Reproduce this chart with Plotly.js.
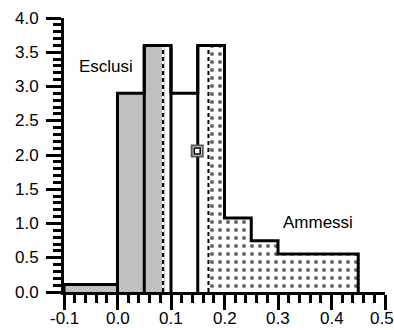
<!DOCTYPE html>
<html>
<head>
<meta charset="utf-8">
<script src="https://cdn.plot.ly/plotly-3.0.1.min.js"></script>
<style>html,body{margin:0;padding:0;background:#fff;}#chart{width:394px;height:330px;}</style>
</head>
<body>
<div id="chart"></div>
<script>
// Bin edges and heights of the histogram
const binEdges = [-0.1, 0.0, 0.05, 0.1, 0.15, 0.2, 0.25, 0.3, 0.45];
const binHeights = [0.11, 2.9, 3.6, 2.9, 3.6, 1.08, 0.75, 0.555];
// Thresholds: Esclusi (excluded) below cutLow, Ammessi (admitted) above cutHigh
const cutLow = 0.085;
const cutHigh = 0.17;
// Marked point
const pointX = [0.149];
const pointY = [2.06];
// Tick labels
const xTickVals = [-0.1, 0.0, 0.1, 0.2, 0.3, 0.4, 0.5];
const xTickText = ["-0.1", "0.0", "0.1", "0.2", "0.3", "0.4", "0.5"];
const yTickVals = [0, 0.5, 1, 1.5, 2, 2.5, 3, 3.5, 4];
const yTickText = ["0.0", "0.5", "1.0", "1.5", "2.0", "2.5", "3.0", "3.5", "4.0"];
const labelEsclusi = "Esclusi";
const labelAmmessi = "Ammessi";

function clipBins(lo, hi) {
  const xs = [], ws = [], ys = [];
  for (let i = 0; i < binHeights.length; i++) {
    const a = Math.max(binEdges[i], lo), b = Math.min(binEdges[i + 1], hi);
    if (b > a) { xs.push((a + b) / 2); ws.push(b - a); ys.push(binHeights[i]); }
  }
  return {xs, ws, ys};
}
function heightAt(x) {
  for (let i = 0; i < binHeights.length; i++) {
    if (x >= binEdges[i] && x < binEdges[i + 1]) return binHeights[i];
  }
  return 0;
}

const gray = clipBins(-Infinity, cutLow + 0.004);
const dots = clipBins(cutHigh, Infinity);

// outline path: top step + internal separators at edges <= cutHigh
const ox = [], oy = [];
ox.push(binEdges[0]); oy.push(0);
for (let i = 0; i < binHeights.length; i++) {
  ox.push(binEdges[i]); oy.push(binHeights[i]);
  ox.push(binEdges[i + 1]); oy.push(binHeights[i]);
}
ox.push(binEdges[binEdges.length - 1]); oy.push(0);
for (let i = 1; i < binEdges.length - 1; i++) {
  if (binEdges[i] <= cutHigh) {
    ox.push(null); oy.push(null);
    ox.push(binEdges[i]); oy.push(0);
    ox.push(binEdges[i]); oy.push(Math.max(binHeights[i - 1], binHeights[i]));
  }
}

const traces = [
  {type: 'bar', x: gray.xs, y: gray.ys, width: gray.ws, base: 0,
   marker: {color: '#c0c0c0', line: {width: 0}}, hoverinfo: 'skip'},
  {type: 'bar', x: dots.xs, y: dots.ys, width: dots.ws, base: 0,
   marker: {color: 'white', line: {width: 0},
            pattern: {shape: '.', fgcolor: '#666', bgcolor: 'white', size: 8, solidity: 0.2, fillmode: 'replace'}},
   hoverinfo: 'skip'},
  // dashed threshold lines (white base + black dashes)
  {type: 'scatter', mode: 'lines', x: [cutLow, cutLow, null, cutHigh, cutHigh],
   y: [0, heightAt(cutLow), null, 0, heightAt(cutHigh)],
   line: {color: 'white', width: 2}, hoverinfo: 'skip'},
  {type: 'scatter', mode: 'lines', x: [cutLow, cutLow, null, cutHigh, cutHigh],
   y: [0, heightAt(cutLow), null, 0, heightAt(cutHigh)],
   line: {color: 'black', width: 2, dash: '4px,3px'}, hoverinfo: 'skip'},
  {type: 'scatter', mode: 'lines', x: ox, y: oy, connectgaps: false,
   line: {color: 'black', width: 3}, hoverinfo: 'skip'},
  {type: 'scatter', mode: 'markers', x: pointX, y: pointY,
   marker: {symbol: 'square', size: 11, color: 'white', line: {color: '#555', width: 2}}, hoverinfo: 'skip'},
  {type: 'scatter', mode: 'markers', x: pointX, y: pointY,
   marker: {symbol: 'square-open', size: 6, color: 'black', line: {color: 'black', width: 1.5}}, hoverinfo: 'skip'}
];

const font = {family: 'Arial, "Liberation Sans", sans-serif', size: 17, color: '#000'};

const annotations = [
  {x: -0.0215, y: 3.29, xref: 'x', yref: 'y', text: labelEsclusi, showarrow: false, font: font},
  {x: 0.374, y: 1.01, xref: 'x', yref: 'y', text: labelAmmessi, showarrow: false, font: font}
];
xTickVals.forEach((v, i) => {
  const last = i === xTickVals.length - 1;
  annotations.push({x: v, y: 0, xref: 'x', yref: 'paper', yanchor: 'top', yshift: -16,
    xanchor: last ? 'right' : 'center', xshift: last ? 10 : 0,
    text: xTickText[i], showarrow: false, font: font, borderpad: 0});
});
yTickVals.forEach((v, i) => {
  annotations.push({x: 0, y: v, xref: 'paper', yref: 'y', xanchor: 'right', yanchor: 'middle', xshift: -24,
    text: yTickText[i], showarrow: false, font: font, borderpad: 0});
});

const layout = {
  width: 394, height: 330,
  margin: {l: 64, r: 9, t: 18, b: 38, pad: 0},
  paper_bgcolor: 'white', plot_bgcolor: 'white',
  showlegend: false, barmode: 'overlay', bargap: 0,
  font: font,
  xaxis: {range: [-0.1, 0.5], tickmode: 'array', tickvals: xTickVals, showticklabels: false,
          ticks: 'outside', ticklen: 15, tickwidth: 3, tickcolor: '#000',
          showline: true, linewidth: 3, linecolor: '#000', showgrid: false, zeroline: false,
          minor: {tickmode: 'linear', tick0: -0.1, dtick: 0.02, ticks: 'outside', ticklen: 8, tickwidth: 3, tickcolor: '#000', showgrid: false},
          fixedrange: true},
  yaxis: {range: [0, 4], tickmode: 'array', tickvals: yTickVals, showticklabels: false,
          ticks: 'outside', ticklen: 15, tickwidth: 3, tickcolor: '#000',
          showline: true, linewidth: 3, linecolor: '#000', showgrid: false, zeroline: false,
          minor: {tickmode: 'linear', tick0: 0, dtick: 0.1, ticks: 'outside', ticklen: 8, tickwidth: 3, tickcolor: '#000', showgrid: false},
          fixedrange: true},
  annotations: annotations
};
Plotly.newPlot('chart', traces, layout, {staticPlot: true, displayModeBar: false});
</script>
</body>
</html>
